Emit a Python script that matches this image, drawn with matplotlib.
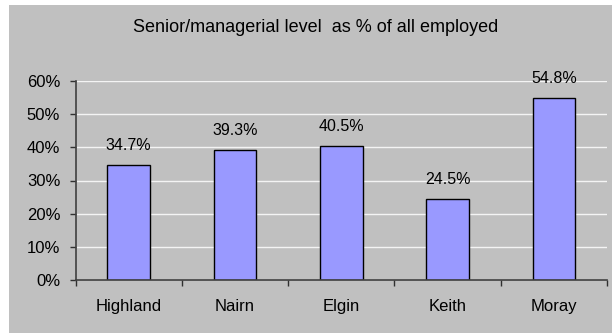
import numpy as np
import matplotlib.pyplot as plt
from matplotlib.patches import Rectangle
from matplotlib.ticker import PercentFormatter

# share of employed people in senior/managerial posts, by area
areas = ["Highland", "Nairn", "Elgin", "Keith", "Moray"]
shares = [34.7, 39.3, 40.5, 24.5, 54.8]
y_ticks = [0, 10, 20, 30, 40, 50, 60]

plt.rcParams['font.family'] = ['Liberation Sans', 'DejaVu Sans']
plt.rcParams['font.size'] = 12

fig = plt.figure(figsize=(6.12, 3.33), dpi=100, facecolor="white")
# grey chart area, leaving a thin white strip on the left and top
fig.patches.append(Rectangle((9 / 612, 0), 1 - 9 / 612, 1 - 5 / 333,
                             transform=fig.transFigure, facecolor="#c0c0c0",
                             edgecolor="none", zorder=-1))

ax = fig.add_axes([75.5 / 612, 53 / 333, (607 - 75.5) / 612, (280 - 81) / 333])
ax.set_facecolor("none")
ax.set_zorder(2)

x = np.arange(len(areas))
bars = ax.bar(x, shares, width=0.4, color="#9999ff", edgecolor="black",
              linewidth=1, zorder=3)
for xi, v in zip(x, shares):
    ax.annotate(f"{v:.1f}%", (xi, v), xytext=(0, 14), textcoords="offset points",
                ha="center", va="center", fontsize=11.5, color="black")

ax.set_xlim(-0.5, len(areas) - 0.5)
ax.set_ylim(0, 60)
ax.set_yticks(y_ticks)
ax.yaxis.set_major_formatter(PercentFormatter(decimals=0))
ax.grid(axis="y", color="#f4f4f4", linewidth=1, zorder=1)

ax.set_xticks(x)
ax.set_xticklabels(areas)
ax.set_xticks(np.arange(len(areas) + 1) - 0.5, minor=True)
ax.tick_params(axis="x", which="major", length=0, pad=14, labelsize=12)
ax.tick_params(axis="x", which="minor", length=4, width=1, color="#303030", direction="out")
ax.tick_params(axis="y", length=4, width=1, color="#303030", direction="out", pad=7,
               labelsize=12)

for side in ["top", "right"]:
    ax.spines[side].set_visible(False)
for side in ["left", "bottom"]:
    ax.spines[side].set_color("#404040")
    ax.spines[side].set_linewidth(1.2)
    ax.spines[side].set_zorder(4)

fig.text(316 / 612, 1 - 28 / 333, "Senior/managerial level  as % of all employed",
         ha="center", va="center", fontsize=13)

fig.savefig("out.png", dpi=100, facecolor="white")
